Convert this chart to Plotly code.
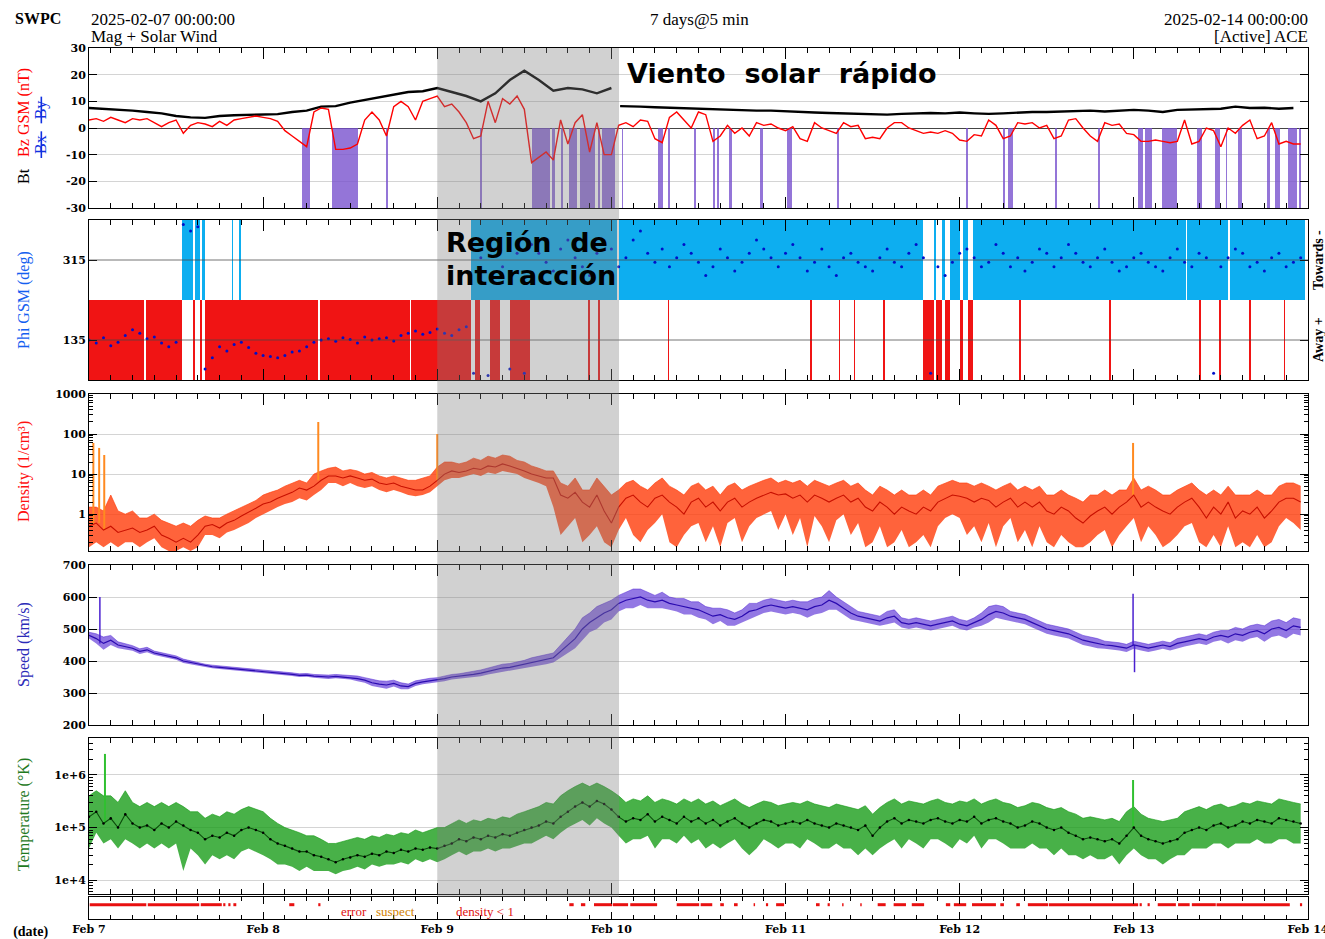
import plotly.graph_objects as go
from datetime import datetime, timedelta

# ---------------- DATA ----------------
T0 = datetime(2025, 2, 7)
HOURS = list(range(168))                      # hourly samples, Feb 7 00:00 .. Feb 13 23:00
DAY_LABELS = ["Feb 7", "Feb 8", "Feb 9", "Feb 10", "Feb 11", "Feb 12", "Feb 13", "Feb 14"]

# Bt (nT) sampled every 2 h, with a short data gap near Feb 10 00:40
BT_HOURS = list(range(0, 73, 2)) + [72.8, 73.2] + list(range(74, 167, 2))
BT = [7.5, 7.2, 7.0, 6.5, 6.0, 5.5, 4.5, 4.0, 3.8, 4.5, 4.8, 5.0, 5.0, 5.2, 6.0, 6.5,
      8.0, 8.2, 9.5, 10.5, 11.5, 12.5, 13.5, 13.8, 15.0, 13.5, 12.0, 10.0, 13.0, 18.0,
      21.5, 18.0, 14.0, 15.0, 14.5, 13.0, 15.0,
      None, 8.2,
      8.2, 8.0, 7.8, 7.6, 7.5, 7.2, 7.0, 7.0, 6.8, 6.5, 6.5, 6.2, 6.0, 5.8, 5.6, 5.4,
      5.2, 5.0, 5.0, 5.3, 5.5, 5.6, 5.5, 5.8, 5.5, 5.3, 5.5, 5.8, 6.0, 6.0, 6.2, 6.3,
      6.5, 6.2, 6.5, 6.8, 6.5, 6.0, 6.8, 7.0, 7.0, 7.2, 8.0, 7.5, 7.6, 7.2, 7.5]

BZ = [3, 3.5, 2.5, 4, 3, 2, 3.5, 3, 3.5, 2, 0.5, 2,
      3, -2, 1, 2, 1.5, 0.5, 2.5, 1, 3, 3.5, 4, 4.5,
      4, 3.5, 2.5, -1, -3, -5, -7, 6, 7.5, 7, -8, -8,
      -7.5, -6, 3, 6, 3, -3, 8, 10, 8, 3, 10, 11,
      12, 8, 9, 6, 2, -4, -3, 10, 2, 11, 9, 12,
      7, -13, -11, -9, -12, 3, -6, 2, 5, -9, 2, -10,
      -10, 1, 2, 0.5, 3, 2.5, -4, -5.5, 4, 6, 3, 0,
      6, 5, -5, -3, 1, -2, 0, -3, 2, 1, 1.5, 0,
      -1, 0.5, -4, -5, 2, 0, -1, -2, 2, 0.5, 1, -4,
      -3.5, -4, 0, 2, 2, 0, -1, -2, -1.5, -2, -1, -2,
      -4.5, -5, -2.5, -3, 3, 1, -4, -3, 2, 1.5, 2, 0,
      1, -4, -3, 3, 3.5, 0, -3, -5, 2, 1, 1.5, -2,
      -2.5, -5, -5, -4.5, -5, -5.5, -5, 3, -6, -5, 0, -1,
      -7, 0, -2, 1, 3, -4, -3, 2, -6, -5, -6, -6]

# southward Bz intervals (hours from Feb 7 00:00)
PURPLE = [(29.4, 30.5), (33.5, 37.1), (41.0, 41.2), (53.9, 54.2), (61.0, 63.5), (63.8, 64.2),
          (65.1, 65.3), (66.2, 67.2), (67.7, 69.7), (70.2, 70.4), (70.7, 72.5), (73.4, 73.6),
          (78.4, 79.1), (79.8, 80.1), (83.4, 83.6), (86.0, 86.3), (86.6, 86.8), (88.2, 88.6),
          (92.5, 92.9), (96.2, 96.9), (103.1, 103.3), (120.9, 121.1), (126.0, 126.2),
          (126.7, 127.3), (133.2, 133.4), (139.1, 139.3), (144.6, 145.3), (145.5, 146.5),
          (147.9, 149.9), (152.7, 153.4), (155.2, 155.9), (156.7, 156.9), (158.4, 158.9),
          (162.3, 162.8), (163.5, 164.1), (165.2, 166.5), (166.8, 167.1)]

# IMF sector intervals (hours)
AWAY = [(0, 7.6), (7.8, 12.8), (14.3, 14.6), (15.3, 15.6), (16.0, 31.6), (31.8, 44.2),
        (44.4, 52.6), (53.2, 53.9), (55.3, 56.6), (58.0, 60.8), (68.8, 69.1), (70.1, 70.4),
        (79.8, 80.0), (99.4, 99.6), (103.3, 103.5), (105.4, 105.6), (109.5, 109.7),
        (115.0, 116.5), (116.8, 117.6), (118.0, 118.7), (120.0, 120.4), (121.2, 121.8),
        (128.2, 128.4), (140.6, 140.8), (153.0, 153.2), (155.8, 156.0), (159.9, 160.1),
        (164.7, 164.9)]
TOWARDS = [(12.8, 14.3), (14.6, 15.3), (15.6, 16.0), (19.7, 19.9), (20.7, 20.9),
           (52.6, 72.8), (73.0, 115.0), (116.5, 116.8), (117.6, 118.0), (118.7, 120.0),
           (120.4, 121.2), (121.8, 151.2), (151.4, 157.0), (157.2, 167.6)]

PHI = [135, 128, 140, 122, 130, 145, 158, 150, 138, 142, 128, 120,
       130, 395, 380, 390, 70, 95, 120, 110, 125, 130, 118, 105,
       100, 98, 95, 100, 108, 110, 120, 130, 135, 138, 132, 140,
       136, 128, 142, 135, 138, 140, 133, 145, 150, 155, 148, 152,
       160, 150, 145, 158, 165, 60, 320, 55, 340, 300, 70, 330,
       60, 350, 330, 310, 290, 340, 360, 320, 300, 280, 330, 350,
       340, 300, 320, 360, 380, 330, 310, 340, 300, 320, 350, 330,
       310, 280, 300, 340, 320, 290, 310, 330, 360, 340, 320, 300,
       330, 350, 320, 290, 310, 340, 300, 280, 320, 330, 310, 300,
       290, 320, 340, 310, 300, 330, 350, 320, 60, 300, 280, 310,
       330, 340, 320, 300, 310, 350, 330, 300, 320, 290, 310, 340,
       330, 300, 320, 350, 330, 310, 300, 320, 340, 310, 290, 300,
       320, 330, 310, 300, 290, 320, 340, 310, 300, 330, 320, 60,
       300, 320, 340, 330, 300, 310, 290, 320, 330, 300, 310, 320]

DENS = [0.5, 0.6, 0.4, 0.5, 0.35, 0.4, 0.45, 0.35, 0.4, 0.5, 0.3, 0.25,
        0.2, 0.25, 0.2, 0.3, 0.5, 0.55, 0.45, 0.6, 0.7, 0.9, 1.1, 1.4,
        1.8, 2.0, 2.5, 3.0, 3.5, 4.5, 4.0, 5.0, 7.0, 9.0, 9.0, 8.0,
        9.0, 8.0, 7.0, 7.5, 6.0, 5.5, 6.0, 5.0, 4.5, 4.0, 4.0, 5.0,
        7, 10, 12, 11, 12, 14, 13, 16, 15, 18, 16, 14,
        12, 10, 9, 8, 8, 3, 2.5, 3.5, 2, 1.5, 3, 1.2,
        0.6, 1.5, 2.5, 3, 2, 1.5, 2.5, 3, 2, 1.5, 1, 2,
        2.5, 1.5, 2, 1.2, 2, 2.5, 1.5, 2, 2.5, 3, 3.5, 3,
        3.2, 2.5, 3, 2, 3, 2.5, 2, 2.5, 3, 2, 2.5, 1.5,
        1.2, 2, 1.5, 1, 1.5, 1.2, 1.0, 1.5, 1.2, 2, 2.5, 3,
        2.8, 2.5, 2, 2.5, 2.2, 1.5, 2, 2.5, 1.5, 2, 1.5, 2,
        1.2, 1, 1.5, 1.2, 0.8, 0.6, 0.9, 1.2, 1.5, 1, 1.5, 2,
        3, 1.5, 2, 1.5, 1.2, 1, 1.5, 2, 2.5, 1.5, 0.8, 1.5,
        1, 2, 0.8, 1.2, 1, 1.5, 0.8, 1.2, 2, 2.5, 2.5, 2]
DENS_LO = [0.15, 0.2, 0.15, 0.2, 0.15, 0.2, 0.2, 0.15, 0.2, 0.25, 0.15, 0.12,
           0.12, 0.15, 0.12, 0.15, 0.3, 0.3, 0.25, 0.35, 0.4, 0.5, 0.6, 0.8,
           1.0, 1.2, 1.5, 1.8, 2.0, 2.5, 2.2, 3, 4, 6, 6, 5,
           6, 5, 4.5, 5, 4, 3.5, 4, 3.5, 3, 2.8, 3, 3.5,
           5, 7, 8, 8, 9, 10, 9, 11, 10, 12, 11, 10,
           8, 7, 6, 5, 1.5, 0.3, 0.5, 0.8, 0.2, 0.3, 0.5, 0.2,
           0.15, 0.4, 0.8, 0.3, 0.2, 0.4, 0.6, 1.0, 0.2, 0.15, 0.3, 0.5,
           0.6, 0.2, 0.5, 0.15, 0.6, 0.8, 0.2, 0.5, 0.8, 1.0, 1.2, 0.4,
           1.0, 0.3, 0.8, 0.15, 0.9, 0.5, 0.2, 0.7, 1.0, 0.3, 0.6, 0.15,
           0.2, 0.5, 0.15, 0.2, 0.4, 0.15, 0.2, 0.3, 0.15, 0.5, 0.8, 1.0,
           0.8, 0.3, 0.5, 0.2, 0.6, 0.15, 0.5, 0.8, 0.2, 0.4, 0.15, 0.5,
           0.2, 0.15, 0.3, 0.2, 0.15, 0.15, 0.2, 0.3, 0.4, 0.15, 0.3, 0.5,
           0.8, 0.2, 0.5, 0.3, 0.15, 0.2, 0.3, 0.5, 0.6, 0.2, 0.15, 0.3,
           0.15, 0.5, 0.15, 0.2, 0.15, 0.3, 0.15, 0.2, 0.5, 0.8, 0.6, 0.4]
DENS_HI = [1.5, 1.5, 1.2, 3, 1.2, 1.0, 1.2, 0.8, 0.8, 1.0, 0.7, 0.6,
           0.5, 0.6, 0.5, 0.7, 0.9, 0.8, 0.8, 1.0, 1.2, 1.5, 1.8, 2.2,
           3, 3.5, 4, 5, 6, 7, 6, 10, 12, 14, 15, 12,
           13, 12, 10, 11, 9, 8, 9, 8, 7, 7, 8, 9,
           15, 20, 20, 18, 20, 25, 22, 28, 25, 30, 28, 22,
           20, 16, 14, 12, 12, 6, 5, 8, 4, 4, 8, 5,
           3, 4, 6, 7, 5, 4, 6, 8, 5, 4, 3, 5,
           6, 4, 5, 3, 5, 6, 4, 5, 6, 7, 8, 6,
           7, 6, 7, 5, 7, 6, 5, 6, 7, 5, 6, 4,
           3, 5, 4, 3, 4, 3, 3, 4, 3, 5, 6, 7,
           6, 6, 5, 6, 5, 4, 5, 6, 4, 5, 4, 5,
           3, 3, 4, 3, 2.5, 2, 3, 3, 4, 3, 4, 4,
           8, 4, 5, 4, 3, 3, 4, 5, 6, 4, 3, 4,
           3, 5, 3, 3, 3, 4, 3, 3, 5, 6, 6, 5]
DENS_SPIKES = [(0.6, 60), (1.4, 45), (2.1, 30), (31.6, 200), (48.0, 100), (143.9, 60)]

SPEED = [480, 470, 455, 465, 450, 445, 440, 430, 435, 425, 420, 415,
         410, 400, 395, 390, 385, 382, 380, 378, 375, 372, 372, 370,
         368, 365, 362, 360, 358, 355, 356, 353, 352, 350, 352, 350,
         348, 345, 340, 332, 328, 325, 330, 322, 320, 330, 335, 338,
         340, 345, 350, 352, 355, 358, 362, 368, 372, 378, 380, 385,
         390, 395, 400, 405, 410, 430, 450, 470, 500, 520, 535, 550,
         560, 580, 590, 595, 600, 590, 585, 590, 580, 575, 570, 565,
         560, 550, 540, 545, 535, 530, 540, 555, 560, 570, 575, 570,
         565, 570, 565, 560, 570, 575, 590, 580, 565, 550, 540, 535,
         530, 525, 535, 540, 520, 515, 520, 515, 510, 515, 520, 525,
         515, 510, 520, 530, 545, 555, 550, 540, 535, 530, 520, 510,
         500, 495, 490, 485, 475, 465, 460, 455, 450, 448, 445, 440,
         450, 445, 440, 445, 450, 445, 455, 460, 465, 470, 465, 475,
         480, 475, 485, 480, 490, 495, 485, 500, 505, 495, 510, 505]
SPEED_DEV = [10, 15, 20, 15, 10, 10, 8, 8, 8, 6, 6, 6,
             6, 6, 5, 5, 5, 5, 5, 5, 5, 5, 5, 5,
             5, 5, 5, 5, 5, 5, 5, 5, 5, 6, 6, 6,
             6, 8, 8, 10, 10, 12, 10, 10, 8, 8, 8, 8,
             8, 8, 8, 8, 8, 10, 10, 10, 10, 12, 12, 12,
             12, 15, 15, 15, 15, 20, 25, 30, 35, 30, 35, 30,
             30, 25, 25, 30, 25, 25, 20, 25, 20, 20, 25, 20,
             25, 20, 25, 20, 25, 20, 20, 25, 20, 20, 20, 20,
             20, 20, 20, 25, 25, 25, 30, 20, 20, 20, 15, 15,
             15, 15, 20, 20, 15, 15, 15, 15, 15, 15, 15, 15,
             15, 15, 15, 20, 25, 20, 20, 15, 15, 15, 15, 15,
             15, 15, 15, 15, 15, 15, 15, 15, 12, 12, 12, 12,
             12, 12, 12, 12, 12, 12, 15, 15, 15, 15, 15, 15,
             15, 20, 20, 20, 20, 20, 25, 25, 25, 25, 25, 25]
SPEED_SPIKES = [(1.5, 600), (143.9, 610), (144.1, 365)]

TEMP = [1.6e5, 2.0e5, 1.2e5, 1.5e5, 1.0e5, 1.8e5, 1.2e5, 1.0e5, 1.1e5, 0.9e5, 1.2e5, 1.0e5,
        1.3e5, 1.1e5, 0.9e5, 0.8e5, 0.6e5, 0.7e5, 0.65e5, 0.8e5, 0.7e5, 0.9e5, 1.0e5, 0.9e5,
        0.8e5, 0.6e5, 0.5e5, 0.45e5, 0.4e5, 0.35e5, 0.35e5, 0.3e5, 0.28e5, 0.25e5, 0.22e5, 0.25e5,
        0.27e5, 0.3e5, 0.28e5, 0.32e5, 0.3e5, 0.35e5, 0.33e5, 0.38e5, 0.35e5, 0.4e5, 0.38e5, 0.42e5,
        0.4e5, 0.45e5, 0.5e5, 0.6e5, 0.55e5, 0.65e5, 0.6e5, 0.7e5, 0.65e5, 0.75e5, 0.7e5, 0.8e5,
        0.9e5, 1.0e5, 1.1e5, 1.3e5, 1.2e5, 1.6e5, 2.0e5, 2.5e5, 3.0e5, 2.5e5, 3.2e5, 2.8e5,
        2.2e5, 1.6e5, 1.3e5, 1.5e5, 1.4e5, 1.8e5, 1.3e5, 1.6e5, 1.4e5, 1.2e5, 1.6e5, 1.3e5,
        1.5e5, 1.2e5, 1.4e5, 1.1e5, 1.3e5, 1.5e5, 1.2e5, 1.0e5, 1.2e5, 1.4e5, 1.3e5, 1.1e5,
        1.2e5, 1.3e5, 1.2e5, 1.4e5, 1.2e5, 1.1e5, 1.0e5, 1.2e5, 1.1e5, 1.0e5, 0.9e5, 1.1e5,
        0.7e5, 1.0e5, 1.3e5, 1.5e5, 1.2e5, 1.4e5, 1.3e5, 1.2e5, 1.4e5, 1.5e5, 1.3e5, 1.2e5,
        1.4e5, 1.3e5, 1.6e5, 1.2e5, 1.4e5, 1.5e5, 1.3e5, 1.2e5, 1.0e5, 1.1e5, 1.3e5, 1.2e5,
        1.0e5, 0.9e5, 1.0e5, 0.8e5, 0.7e5, 0.6e5, 0.65e5, 0.6e5, 0.55e5, 0.6e5, 0.5e5, 0.7e5,
        1.0e5, 0.7e5, 0.6e5, 0.55e5, 0.5e5, 0.55e5, 0.6e5, 0.8e5, 0.9e5, 1.0e5, 0.9e5, 1.1e5,
        1.2e5, 1.0e5, 1.1e5, 1.3e5, 1.2e5, 1.4e5, 1.3e5, 1.2e5, 1.5e5, 1.4e5, 1.3e5, 1.2e5]
TEMP_LO = [4e4, 8e4, 5e4, 6e4, 4e4, 6e4, 5e4, 4e4, 5e4, 4e4, 5e4, 4e4,
           5e4, 1.5e4, 4e4, 3e4, 2e4, 3e4, 2.5e4, 3e4, 2.5e4, 3.5e4, 4e4, 3.5e4,
           3e4, 2.5e4, 2e4, 2e4, 1.8e4, 1.5e4, 1.8e4, 1.5e4, 1.5e4, 1.5e4, 1.3e4, 1.5e4,
           1.6e4, 1.8e4, 1.6e4, 2e4, 1.8e4, 2e4, 2e4, 2.2e4, 2e4, 2.5e4, 2.2e4, 2.5e4,
           2.2e4, 2.5e4, 3e4, 3.5e4, 3e4, 3.5e4, 3.5e4, 4e4, 3.5e4, 4e4, 4e4, 4.5e4,
           5e4, 5e4, 6e4, 7e4, 6e4, 8e4, 1e5, 1.2e5, 1.4e5, 1.1e5, 1.5e5, 1.2e5,
           1e5, 7e4, 5e4, 6e4, 6e4, 7e4, 4e4, 6e4, 6e4, 5e4, 7e4, 5e4,
           6e4, 4e4, 5e4, 4e4, 5e4, 6e4, 4e4, 3e4, 4e4, 6e4, 5e4, 4e4,
           5e4, 5e4, 4e4, 6e4, 5e4, 4e4, 4e4, 5e4, 4e4, 4e4, 3e4, 4e4,
           3e4, 4e4, 5e4, 6e4, 4e4, 6e4, 5e4, 4e4, 6e4, 6e4, 5e4, 4e4,
           6e4, 5e4, 7e4, 4e4, 6e4, 6e4, 5e4, 4e4, 4e4, 4e4, 5e4, 4e4,
           4e4, 3e4, 4e4, 3e4, 3e4, 2.5e4, 3e4, 2.5e4, 2.5e4, 3e4, 2e4, 3e4,
           4e4, 3e4, 2.5e4, 2.5e4, 2e4, 2.5e4, 3e4, 3e4, 4e4, 4e4, 4e4, 5e4,
           5e4, 4e4, 5e4, 5e4, 5e4, 6e4, 5e4, 5e4, 6e4, 6e4, 5e4, 5e4]
TEMP_HI = [4e5, 5e5, 4e5, 4e5, 3e5, 5e5, 3e5, 2.5e5, 3e5, 2.5e5, 3e5, 2.5e5,
           3e5, 2.5e5, 2e5, 2e5, 1.5e5, 1.8e5, 1.6e5, 2e5, 1.8e5, 2.2e5, 2.5e5, 2.2e5,
           2e5, 1.5e5, 1.2e5, 1e5, 9e4, 8e4, 7e4, 7e4, 6e4, 5e4, 5e4, 5.5e4,
           6e4, 6.5e4, 6e4, 7e4, 6.5e4, 7.5e4, 7e4, 8e4, 7.5e4, 9e4, 8e4, 9e4,
           1e5, 1e5, 1.2e5, 1.4e5, 1.2e5, 1.4e5, 1.3e5, 1.5e5, 1.4e5, 1.6e5, 1.5e5, 1.8e5,
           2e5, 2.2e5, 2.5e5, 3e5, 2.8e5, 4e5, 5e5, 6e5, 7e5, 6e5, 7e5, 6e5,
           5e5, 4e5, 3e5, 3.5e5, 3.2e5, 4e5, 3e5, 3.5e5, 3.2e5, 2.8e5, 3.5e5, 3e5,
           3.5e5, 2.8e5, 3.2e5, 2.6e5, 3e5, 3.5e5, 2.8e5, 2.4e5, 2.8e5, 3.2e5, 3e5, 2.6e5,
           2.8e5, 3e5, 2.8e5, 3.2e5, 2.8e5, 2.6e5, 2.4e5, 2.8e5, 2.6e5, 2.4e5, 2.2e5, 2.6e5,
           1.8e5, 2.4e5, 3e5, 3.5e5, 2.8e5, 3.2e5, 3e5, 2.8e5, 3.2e5, 3.5e5, 3e5, 2.8e5,
           3.2e5, 3e5, 3.5e5, 2.8e5, 3.2e5, 3.5e5, 3e5, 2.8e5, 2.4e5, 2.6e5, 3e5, 2.8e5,
           2.4e5, 2.2e5, 2.4e5, 2e5, 1.8e5, 1.5e5, 1.6e5, 1.5e5, 1.4e5, 1.5e5, 1.3e5, 2e5,
           2.5e5, 1.8e5, 1.5e5, 1.4e5, 1.3e5, 1.4e5, 1.5e5, 2e5, 2.2e5, 2.5e5, 2.2e5, 2.6e5,
           2.8e5, 2.4e5, 2.6e5, 3e5, 2.8e5, 3.2e5, 3e5, 2.8e5, 3.5e5, 3.2e5, 3e5, 2.8e5]
TEMP_SPIKES = [(2.2, 2.5e6), (143.9, 8e5)]

# quality flag intervals (hours)
FLAGS = [(0.1, 7.9), (8.1, 15.2), (15.4, 18.3), (18.5, 18.8), (19.2, 19.5), (19.9, 20.3),
         (27.6, 28.3), (31.6, 31.9), (66.2, 66.8), (67.8, 68.4), (69.6, 72.1), (72.2, 74.3),
         (74.6, 78.3), (81.0, 84.1), (84.3, 85.9), (87.0, 87.5), (88.9, 89.4), (91.6, 91.8),
         (93.3, 93.6), (94.7, 95.8), (100.2, 100.7), (101.8, 102.1), (103.8, 104.0),
         (106.3, 106.5), (108.7, 109.8), (110.9, 112.6), (113.4, 115.1), (118.1, 118.7),
         (119.2, 120.9), (121.7, 125.0), (125.6, 126.1), (127.8, 128.3), (129.4, 132.2),
         (132.3, 144.6), (144.8, 145.1), (145.9, 146.2), (147.3, 149.8), (150.1, 151.7),
         (152.0, 155.3), (155.4, 165.5), (166.9, 167.2)]

# ---------------- FIGURE ----------------
def t(h):
    return T0 + timedelta(hours=h)

# page coordinates of the plot frame (body margin is removed by the post script)
L, R, TOP, BOT = 89, 1308, 48, 919
W, H = 1325, 939


def px(x):
    return (x - L) / (R - L)


def py(y):
    return (BOT - y) / (BOT - TOP)


times = [t(h) for h in HOURS]
fig = go.Figure()


def bars(intervals, base, height, color, xa, ya):
    return go.Bar(x=[t((s + e) / 2) for s, e in intervals], y=[height] * len(intervals),
                  base=base, width=[(e - s) * 3600000 for s, e in intervals],
                  marker=dict(color=color, line=dict(width=0)), xaxis=xa, yaxis=ya,
                  showlegend=False, hoverinfo="skip")


def band(lo, hi, color, xa, ya):
    fig.add_trace(go.Scatter(x=times, y=lo, mode="lines", line=dict(width=0, color=color),
                             xaxis=xa, yaxis=ya, showlegend=False, hoverinfo="skip"))
    fig.add_trace(go.Scatter(x=times, y=hi, mode="lines", line=dict(width=0.8, color=color),
                             fill="tonexty", fillcolor=color, xaxis=xa, yaxis=ya,
                             showlegend=False, hoverinfo="skip"))


def spikes(spk, series, color, width, xa, ya):
    sx, sy = [], []
    for h, v in spk:
        sx += [t(h), t(h), None]
        sy += [series[min(167, int(round(h)))], v, None]
    fig.add_trace(go.Scatter(x=sx, y=sy, mode="lines", line=dict(color=color, width=width),
                             xaxis=xa, yaxis=ya, showlegend=False, hoverinfo="skip"))


# Panel 1: magnetic field
fig.add_trace(bars(PURPLE, -30, 30, "rgba(118,78,205,0.78)", "x", "y"))
fig.add_trace(go.Scatter(x=[t(h) for h in BT_HOURS], y=BT, mode="lines",
                         line=dict(color="black", width=2.4), xaxis="x", yaxis="y",
                         showlegend=False))
fig.add_trace(go.Scatter(x=times, y=BZ, mode="lines", line=dict(color="#ff0000", width=1.4),
                         xaxis="x", yaxis="y", showlegend=False))

# Panel 2: Phi
fig.add_trace(bars(AWAY, 45, 180, "#f01414", "x2", "y2"))
fig.add_trace(bars(TOWARDS, 225, 180, "#0daef0", "x2", "y2"))
fig.add_trace(go.Scatter(x=times, y=PHI, mode="markers", marker=dict(color="#0010c8", size=3),
                         xaxis="x2", yaxis="y2", showlegend=False))

# Panel 3: density
band(DENS_LO, DENS_HI, "rgba(255,60,10,0.8)", "x3", "y3")
spikes(DENS_SPIKES, DENS, "#ff8a20", 2, "x3", "y3")
fig.add_trace(go.Scatter(x=times, y=DENS, mode="lines", line=dict(color="#c81000", width=1.1),
                         xaxis="x3", yaxis="y3", showlegend=False))

# Panel 4: speed
band([s - d for s, d in zip(SPEED, SPEED_DEV)], [s + d for s, d in zip(SPEED, SPEED_DEV)],
     "rgba(75,30,210,0.6)", "x4", "y4")
spikes(SPEED_SPIKES, SPEED, "#4a20d0", 1.5, "x4", "y4")
fig.add_trace(go.Scatter(x=times, y=SPEED, mode="lines", line=dict(color="#2a0ab0", width=1.2),
                         xaxis="x4", yaxis="y4", showlegend=False))

# Panel 5: temperature
band(TEMP_LO, TEMP_HI, "rgba(20,155,20,0.78)", "x5", "y5")
spikes(TEMP_SPIKES, TEMP, "#30c030", 2, "x5", "y5")
fig.add_trace(go.Scatter(x=times, y=TEMP, mode="lines+markers",
                         line=dict(color="#0a4a0a", width=1.1),
                         marker=dict(color="black", size=2.5),
                         xaxis="x5", yaxis="y5", showlegend=False))

# Panel 6: flags
fx, fy = [], []
for s, e in FLAGS:
    fx += [t(s), t(e), None]
    fy += [0.3, 0.3, None]
fig.add_trace(go.Scatter(x=fx, y=fy, mode="lines", line=dict(color="#e81010", width=3),
                         xaxis="x6", yaxis="y6", showlegend=False))

# ---------------- AXES ----------------
TICKFONT = dict(family="DejaVu Serif", size=11, color="black", weight="bold")
XRANGE = [t(0), t(168.01)]


def xax(anchor, labels=False, tl=11, mtl=5, match=True):
    d = dict(type="date", range=XRANGE, anchor=anchor, domain=[0, 1],
             showline=True, linecolor="black", linewidth=1, mirror="allticks",
             ticks="inside", ticklen=tl, tickwidth=1, tickcolor="black",
             tickmode="array", tickvals=[t(24 * i) for i in range(8)], ticktext=DAY_LABELS,
             showticklabels=labels, tickfont=TICKFONT, automargin=False,
             ticklabeloverflow="allow",
             minor=dict(dtick=3 * 3600000, tick0=t(0), ticks="inside", ticklen=mtl,
                        tickcolor="black", showgrid=False),
             showgrid=False, zeroline=False)
    if match:
        d["matches"] = "x"
    return d


def yax(top, bottom, **kw):
    d = dict(domain=[py(bottom), py(top)], anchor=kw.pop("anchor"), showline=True,
             linecolor="black", linewidth=1, mirror="allticks", ticks="inside", ticklen=8,
             tickcolor="black", tickfont=TICKFONT, gridcolor="#d4d4d4", gridwidth=1,
             zeroline=False, fixedrange=True, automargin=False)
    d.update(kw)
    return d


def decade_minors(lo_exp, hi_exp):
    out = []
    for e in range(lo_exp, hi_exp):
        out += [k * 10 ** e for k in range(2, 10)]
    return out


layout = dict(
    width=W, height=H, autosize=False,
    margin=dict(l=L, r=W - R, t=TOP, b=H - BOT, pad=0, autoexpand=False),
    paper_bgcolor="white", plot_bgcolor="white", barmode="overlay", bargap=0,
    showlegend=False, font=dict(family="Liberation Serif", color="black"),
    xaxis=xax("y", match=False),
    xaxis2=xax("y2"), xaxis3=xax("y3"), xaxis4=xax("y4"), xaxis5=xax("y5"),
    xaxis6=xax("y6", labels=True, tl=7, mtl=4),
    yaxis=yax(48, 208, anchor="x", range=[-30, 30], tickmode="array",
              tickvals=[-30, -20, -10, 0, 10, 20, 30],
              ticktext=["-30", "-20", "-10", "0", "10", "20", "30"],
              zeroline=True, zerolinecolor="#444444", zerolinewidth=1),
    yaxis2=yax(220, 380, anchor="x2", range=[45, 405], tickmode="array",
               tickvals=[135, 315], ticktext=["135", "315"], showgrid=False),
    yaxis3=yax(394, 551, anchor="x3", type="log", range=[-0.92, 3], tickmode="array",
               tickvals=[1, 10, 100, 1000], ticktext=["1", "10", "100", "1000"],
               minor=dict(tickmode="array", tickvals=decade_minors(-1, 3), ticks="inside",
                          ticklen=4, tickcolor="black", showgrid=False)),
    yaxis4=yax(565, 725, anchor="x4", range=[200, 700], tickmode="array",
               tickvals=[200, 300, 400, 500, 600, 700],
               ticktext=["200", "300", "400", "500", "600", "700"]),
    yaxis5=yax(738, 894, anchor="x5", type="log", range=[3.74, 6.7], tickmode="array",
               tickvals=[1e4, 1e5, 1e6], ticktext=["1e+4", "1e+5", "1e+6"],
               minor=dict(tickmode="array", tickvals=decade_minors(3, 7), ticks="inside",
                          ticklen=4, tickcolor="black", showgrid=False)),
    yaxis6=yax(897, 919, anchor="x6", range=[-1, 1], showticklabels=False, ticks="",
               showgrid=False),
)
fig.update_layout(**layout)

# grid lines drawn over the sector bands, and the highlighted interval
shapes = []
for v in (135, 315):
    shapes.append(dict(type="line", xref="x2 domain", yref="y2", x0=0, x1=1, y0=v, y1=v,
                       line=dict(color="rgba(70,70,70,0.75)", width=1), layer="above"))
shapes.append(dict(type="rect", xref="x", yref="paper", x0=t(48), x1=t(73.05),
                   y0=py(897), y1=py(48), fillcolor="rgba(128,128,128,0.36)",
                   line=dict(width=0), layer="above"))
fig.update_layout(shapes=shapes)

SERIF = "Liberation Serif"
ann = []


def A(text, x, y, size=16, color="black", xanchor="center", yanchor="middle", angle=0,
      family=SERIF, weight="normal"):
    ann.append(dict(text=text, x=px(x), y=py(y), xref="paper", yref="paper",
                    xanchor=xanchor, yanchor=yanchor, textangle=angle, showarrow=False,
                    font=dict(family=family, size=size, color=color, weight=weight)))


# header
A("SWPC", 13, 18, 16, weight="bold", xanchor="left")
A("2025-02-07 00:00:00", 89, 19, 17, xanchor="left")
A("Mag + Solar Wind", 89, 37, 17, xanchor="left")
A("7 days@5 min", 699, 19, 17)
A("2025-02-14 00:00:00", 1310, 19, 17, xanchor="right")
A("[Active] ACE", 1310, 37, 17, xanchor="right")

# y-axis titles
A("Bt   <span style='color:#ff0000'>Bz GSM (nT)</span>", 24, 126, 16, angle=-90)
A("<s> Bx </s>  <s> By </s>", 41, 128, 16, color="#1030e0", angle=-90)
A("Phi GSM (deg)", 24, 300, 16, color="#1460f0", angle=-90)
A("Towards -", 1318, 260, 14, angle=-90, weight="bold")
A("Away +", 1318, 340, 14, angle=-90, weight="bold")
A("Density (1/cm³)", 24, 472, 16, color="#ff1010", angle=-90)
A("Speed (km/s)", 24, 645, 16, color="#2b2bb8", angle=-90)
A("Temperature (°K)", 24, 815, 16, color="#1f7a1f", angle=-90)

# flag legend
A("error", 354, 911, 13, color="#e01010")
A("suspect", 395, 911, 13, color="#d08000")
A("density &lt; 1", 485, 911, 13, color="#e01010")
A("<b>(date)</b><br>2025-02-07", 30, 922, 14, yanchor="top")

# highlighted text
BIG = "DejaVu Sans"
A("Viento  solar  rápido", 625, 73, 27, family=BIG, weight="bold", xanchor="left")
A("Región  de", 444, 242, 27, family=BIG, weight="bold", xanchor="left")
A("interacción", 444, 275, 27, family=BIG, weight="bold", xanchor="left")

fig.update_layout(annotations=ann)

fig.write_html("out.html",
               config={"displayModeBar": False, "staticPlot": True},
               post_script="document.body.style.margin='0';"
                           "document.body.style.overflow='hidden';")
